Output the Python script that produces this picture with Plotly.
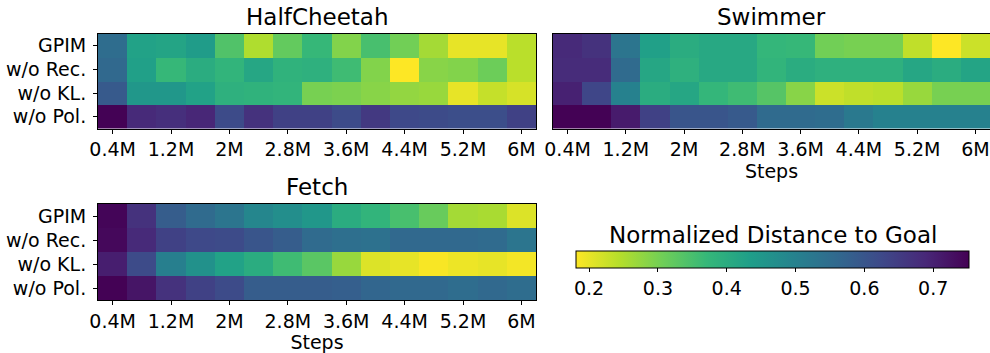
import plotly.graph_objects as go

steps = [0.4, 0.8, 1.2, 1.6, 2.0, 2.4, 2.8, 3.2, 3.6, 4.0, 4.4, 4.8, 5.2, 5.6, 6.0]
tick_vals = [0.4, 1.2, 2.0, 2.8, 3.6, 4.4, 5.2, 6.0]
tick_text = ["0.4M", "1.2M", "2M", "2.8M", "3.6M", "4.4M", "5.2M", "6M"]
methods = ["GPIM", "w/o Rec.", "w/o KL.", "w/o Pol."]
cbar_ticks = [0.2, 0.3, 0.4, 0.5, 0.6, 0.7]

halfcheetah_gpim = [0.55, 0.425, 0.42, 0.44, 0.34, 0.25, 0.32, 0.37, 0.29, 0.35, 0.305, 0.26, 0.20, 0.20, 0.24]
halfcheetah_norec = [0.56, 0.43, 0.37, 0.40, 0.38, 0.415, 0.385, 0.39, 0.36, 0.29, 0.18, 0.285, 0.29, 0.31, 0.24]
halfcheetah_nokl = [0.59, 0.45, 0.45, 0.425, 0.39, 0.385, 0.38, 0.30, 0.295, 0.285, 0.275, 0.27, 0.20, 0.23, 0.215]
halfcheetah_nopol = [0.75, 0.685, 0.675, 0.69, 0.62, 0.67, 0.64, 0.64, 0.62, 0.655, 0.625, 0.62, 0.615, 0.615, 0.64]

swimmer_gpim = [0.685, 0.67, 0.53, 0.43, 0.40, 0.41, 0.41, 0.375, 0.37, 0.305, 0.30, 0.30, 0.235, 0.18, 0.225]
swimmer_norec = [0.68, 0.68, 0.555, 0.415, 0.39, 0.41, 0.41, 0.38, 0.40, 0.39, 0.39, 0.39, 0.415, 0.40, 0.42]
swimmer_nokl = [0.70, 0.63, 0.50, 0.40, 0.415, 0.375, 0.36, 0.335, 0.285, 0.225, 0.235, 0.24, 0.27, 0.30, 0.30]
swimmer_nopol = [0.75, 0.75, 0.71, 0.64, 0.60, 0.60, 0.59, 0.555, 0.555, 0.55, 0.52, 0.50, 0.50, 0.50, 0.50]

fetch_gpim = [0.745, 0.67, 0.585, 0.555, 0.53, 0.49, 0.47, 0.45, 0.40, 0.38, 0.35, 0.315, 0.26, 0.255, 0.21]
fetch_norec = [0.74, 0.685, 0.64, 0.625, 0.62, 0.60, 0.585, 0.555, 0.545, 0.54, 0.56, 0.56, 0.56, 0.555, 0.53]
fetch_nokl = [0.705, 0.62, 0.505, 0.465, 0.425, 0.40, 0.36, 0.33, 0.27, 0.21, 0.20, 0.185, 0.195, 0.20, 0.19]
fetch_nopol = [0.75, 0.72, 0.67, 0.64, 0.62, 0.585, 0.585, 0.585, 0.58, 0.565, 0.56, 0.56, 0.55, 0.56, 0.55]

ZMIN, ZMAX = 0.181, 0.752
W, H = 990, 353
FONT = "DejaVu Sans"
TICK = 19
TITLE = 23
CB_X0, CB_X1, CB_Y0, CB_Y1 = 576, 969, 251, 268

panels = [
    ("HalfCheetah", [halfcheetah_gpim, halfcheetah_norec, halfcheetah_nokl, halfcheetah_nopol], (98, 536), (34, 128.5), True, False),
    ("Swimmer", [swimmer_gpim, swimmer_norec, swimmer_nokl, swimmer_nopol], (553, 990), (34, 128.5), False, True),
    ("Fetch", [fetch_gpim, fetch_norec, fetch_nokl, fetch_nopol], (98, 536), (204, 300), True, True),
]

fig = go.Figure()
annotations = []
for i, (name, z, (x0, x1), (y0, y1), show_y, show_xtitle) in enumerate(panels):
    ax = "" if i == 0 else str(i + 1)
    fig.add_trace(go.Heatmap(
        x=steps, y=methods, z=z,
        zmin=ZMIN, zmax=ZMAX, colorscale="Viridis_r",
        xaxis="x" + ax, yaxis="y" + ax,
        showscale=(i == 0),
        colorbar=dict(
            orientation="h", x=(CB_X0 + CB_X1) / 2 / W, xanchor="center",
            y=1 - CB_Y0 / H, yanchor="top",
            len=CB_X1 - CB_X0, lenmode="pixels", thickness=CB_Y1 - CB_Y0, thicknessmode="pixels",
            xpad=0, ypad=0,
            outlinecolor="black", outlinewidth=1,
            ticks="outside", ticklen=4, tickcolor="black",
            tickvals=cbar_ticks,
            tickfont=dict(family=FONT, size=TICK, color="black"),
        ) if i == 0 else None,
        hoverinfo="x+y+z",
    ))
    xa = dict(
        domain=[x0 / W, x1 / W], anchor="y" + ax, range=[0.2, 6.2], automargin=False,
        tickvals=tick_vals, ticktext=tick_text, ticks="outside", ticklen=4,
        tickcolor="black", showline=True, linecolor="black", linewidth=1, mirror=True,
        showgrid=False, zeroline=False,
        tickfont=dict(family=FONT, size=TICK, color="black"),
    )
    if show_xtitle:
        xa["title"] = dict(text="Steps", font=dict(family=FONT, size=TICK, color="black"), standoff=2)
    ya = dict(
        domain=[1 - y1 / H, 1 - y0 / H], anchor="x" + ax, automargin=False,
        categoryorder="array", categoryarray=methods, range=[3.5, -0.5],
        ticks="outside" if show_y else "", ticklen=4, tickcolor="black",
        showticklabels=show_y, ticklabelstandoff=3,
        showline=True, linecolor="black", linewidth=1, mirror=True,
        showgrid=False, zeroline=False,
        tickfont=dict(family=FONT, size=TICK, color="black"),
    )
    fig.update_layout({"xaxis" + ax: xa, "yaxis" + ax: ya})
    annotations.append(dict(
        text=name, x=(x0 + x1) / 2 / W, y=1 - (y0 - 17) / H,
        xref="paper", yref="paper", xanchor="center", yanchor="middle",
        showarrow=False, font=dict(family=FONT, size=TITLE, color="black"),
    ))

annotations.append(dict(
    text="Normalized Distance to Goal", x=(CB_X0 + CB_X1) / 2 / W, y=1 - 234.5 / H,
    xref="paper", yref="paper", xanchor="center", yanchor="middle",
    showarrow=False, font=dict(family=FONT, size=TITLE, color="black"),
))

fig.update_layout(
    width=W, height=H, margin=dict(l=0, r=0, t=0, b=0, autoexpand=False),
    paper_bgcolor="white", plot_bgcolor="white",
    annotations=annotations, showlegend=False,
)
fig.write_html(
    "out.html",
    config={"displayModeBar": False},
    post_script="document.body.style.margin='0';document.body.style.overflow='hidden';",
)
